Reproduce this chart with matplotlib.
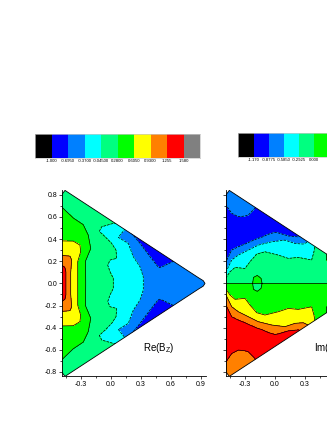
import numpy as np
import matplotlib
matplotlib.use("Agg")
import matplotlib.pyplot as plt
from matplotlib.patches import Polygon

plt.rcParams['font.family'] = ['Liberation Sans', 'DejaVu Sans']
plt.rcParams['mathtext.fontset'] = 'custom'
plt.rcParams['mathtext.rm'] = 'Liberation Sans'
plt.rcParams['mathtext.default'] = 'regular'

# ---------- colour scale ----------
cell_colors = ['#000000', '#0000ff', '#0080ff', '#00ffff', '#00ff80',
               '#00ff00', '#ffff00', '#ff8000', '#ff0000', '#808080']
re_levels = [-1.0, -0.695, -0.37, -0.045, 0.28, 0.605, 0.93, 1.255, 1.58]
re_labels = ['-1.000', '-0.6950', '-0.3700', '-0.04500', '0.2800',
             '0.6050', '0.9300', '1.255', '1.580']
im_levels = [-1.17, -0.8775, -0.585, -0.2925, 0.0, 0.2925, 0.585, 0.8775, 1.17]
im_labels = ['-1.170', '-0.8775', '-0.5850', '-0.2925', '0.000']

# ---------- domain outline (upper half, mirrored) ----------
tri_x = [-0.49, -0.457, 0.88, 0.925, 0.943]
tri_y = [0.80, 0.84, 0.05, 0.025, 0.0]

# ---------- Re(Bz): contour position x at height |y| ----------
re7_y = [0, .10, .144, .165, .175, .9]
re7_x = [-.447, -.447, -.457, -.49, -.8, -.8]
re6_y = [0, .10, .211, .247, .253, .262, .9]
re6_x = [-.40, -.40, -.39, -.407, -.49, -.7, -.7]
re5_y = [0, .196, .286, .346, .382, .386, .9]
re5_x = [-.33, -.33, -.30, -.307, -.374, -.6, -.6]
re4_y = [0, .20, .315, .435, .53, .59, .69, .72, .9]
re4_x = [-.25, -.253, -.20, -.224, -.274, -.374, -.49, -.55, -.55]
re3_y = [0, .045, .105, .165, .211, .226, .301, .361, .422, .47, .512, .542, .56, .9]
re3_x = [.026, .026, -.007, -.03, -.007, .06, .053, .01, -.057, -.114, -.09, .026, .20, .20]
re2_y = [0, .06, .15, .241, .361, .416, .49, .50, .9]
re2_x = [.326, .326, .293, .226, .176, .076, .142, .25, .25]
re1a_y = [0, .147, .241, .361, .452, .47, .9]
re1a_x = [.476, .476, .393, .293, .209, .30, .30]
re1b_y = [0, .147, .156, .20, .21, .9]
re1b_x = [.50, .50, .526, .626, 1.6, 1.6]
# depth of the blue pocket between re1a and re1b, per height
depth_y = [0, .14, .15, .9]
depth_edge = [-.62, -.62, -.695, -.695]
depth_mid = [-.62, -.62, -.85, -.85]

# ---------- Im(Bz): contour height y at position x (upper half, antisymmetric) ----------
imD_x = [-.50, -.49, -.45, -.40, -.30, -.25, -.183, -.10, .033, .133, .233, .367, .39, .40, .42, 1.0]
imD_y = [.05, .051, .105, .144, .135, .196, .265, .286, .256, .226, .235, .211, .286, .34, 1.2, 1.2]
imC_x = [-.50, -.49, -.433, -.367, -.30, -.267, -.167, -.033, .10, .20, .283, .333, .34, .36, 1.0]
imC_y = [.10, .105, .211, .256, .286, .301, .346, .376, .391, .361, .355, .376, .385, 1.3, 1.3]
imB_x = [-.50, -.49, -.433, -.367, -.30, -.25, -.177, -.133, -.067, 0, .033, .133, .233, .26, .28, 1.0]
imB_y = [.19, .196, .301, .331, .355, .376, .404, .416, .443, .461, .455, .428, .419, .428, 1.4, 1.4]
imA_x = [-.50, -.49, -.433, -.367, -.30, -.267, -.20, -.18, 1.0]
imA_y = [.70, .708, .633, .602, .608, .617, .678, 1.5, 1.5]
blob_x = [-.50, -.223, -.215, -.177, -.14, -.13, 1.0]
blob_h = [0, 0, .054, .072, .045, 0, 0]
pocket_x = [.505, .515, 1.0]
pocket_y = [.29, .211, .211]


def re_field(xg, yg):
    cs = [(re7_y, re7_x), (re6_y, re6_x), (re5_y, re5_x), (re4_y, re4_x),
          (re3_y, re3_x), (re2_y, re2_x), (re1a_y, re1a_x)]
    z = np.zeros((yg.size, xg.size))
    for i, y in enumerate(yg):
        a = abs(y)
        px = [np.interp(a, p, q) for p, q in cs]
        b = np.interp(a, re1b_y, re1b_x)
        e = np.interp(a, depth_y, depth_edge)
        m = np.interp(a, depth_y, depth_mid)
        xp = [-2] + px + [(px[-1] + b) / 2, b, 3]
        fp = [1.5, 1.255, .93, .605, .28, -.045, -.37, e, m, e, -.5]
        xp = np.maximum.accumulate(xp) + np.arange(len(xp)) * 1e-6
        z[i] = np.interp(xg, xp, fp)
    return z


def im_field(xg, yg):
    z = np.zeros((yg.size, xg.size))
    up = np.abs(yg)
    sign = np.where(yg >= 0, 1.0, -1.0)
    for j, x in enumerate(xg):
        d = np.interp(x, imD_x, imD_y)
        c = np.interp(x, imC_x, imC_y)
        b = np.interp(x, imB_x, imB_y)
        a = np.interp(x, imA_x, imA_y)
        h = np.interp(x, blob_x, blob_h)
        ys, vs = [0.0], [0.0]
        if h > 0.002:
            ys += [h / 2, h]
            vs += [0.09, 0.0]
        if x >= pocket_x[1]:
            low = np.interp(x, pocket_x, pocket_y)
            ys += [low / 2, low, low + .05]
            vs += [-.1, 0.0, .05]
        ys += [d, c, b, (b + a) / 2, a, 2.0]
        vs += [-.2925, -.585, -.8775, -1.0, -.8775, -.6]
        ys = np.maximum.accumulate(ys) + np.arange(len(ys)) * 1e-6
        z[:, j] = np.interp(up, ys, vs) * sign
    return z


fig = plt.figure(figsize=(3.27, 4.23), dpi=100)
W, H = 327.0, 423.0


def px_axes(x0, y0, x1, y1):
    return fig.add_axes([x0 / W, (H - y1) / H, (x1 - x0) / W, (y1 - y0) / H])


def colorbar(box, labels):
    ax = px_axes(*box)
    ax.pcolormesh(np.arange(11), [0, 1], np.arange(10).reshape(1, 10),
                  cmap=matplotlib.colors.ListedColormap(cell_colors), vmin=-.5, vmax=9.5)
    ax.set_xlim(0, 10)
    ax.set_ylim(0, 1)
    ax.set_yticks([])
    ax.set_xticks(np.arange(1, len(labels) + 1))
    ax.set_xticklabels(labels, fontsize=3.1)
    ax.tick_params(axis='x', length=0, pad=1.2)
    for s in ax.spines.values():
        s.set_color('#c8c8c8')
        s.set_linewidth(.5)


def panel(x0, field, levels, ylabels, xmajor, xminor, label, lx):
    ax = px_axes(x0, 190.4, x0 + 144, 376.4)
    ax.set_xlim(-.49, .95)
    ax.set_ylim(-.84, .84)
    xg = np.linspace(-.5, 1.0, 751)
    yg = np.linspace(-.86, .86, 861)
    z = field(xg, yg)
    outline = list(zip(tri_x, tri_y)) + [(a, -b) for a, b in zip(tri_x[::-1], tri_y[::-1])][1:]
    poly = Polygon(outline, closed=True, transform=ax.transData, facecolor='none',
                   edgecolor='black', linewidth=.6, zorder=4)
    ax.add_patch(poly)
    cf = ax.contourf(xg, yg, z, levels=levels, colors=cell_colors[1:9])
    cl = ax.contour(xg, yg, z, levels=levels[1:-1], colors='black', linewidths=.5)
    cf.set_clip_path(poly)
    cl.set_clip_path(poly)
    for s in ('top', 'right'):
        ax.spines[s].set_visible(False)
    for s in ('left', 'bottom'):
        ax.spines[s].set_linewidth(.6)
    ax.set_xticks(xmajor)
    ax.set_xticklabels([f'{v:.1f}' for v in xmajor])
    ax.set_xticks(xminor, minor=True)
    ax.set_yticks(np.round(np.arange(-.8, .81, .2), 1))
    ax.set_yticks(np.round(np.arange(-.7, .71, .2), 1), minor=True)
    if ylabels:
        ax.set_yticklabels([f'{v:.1f}' for v in np.round(np.arange(-.8, .81, .2), 1) + 0.0])
    else:
        ax.tick_params(axis='y', labelleft=False)
    ax.tick_params(which='major', length=2.2, width=.5, labelsize=5, pad=1)
    ax.tick_params(which='minor', length=1.2, width=.5)
    ax.patch.set_alpha(0)
    ax.text(lx, -.585, label, fontsize=7, ha='left', va='center')


colorbar((35, 134.3, 200, 157.7), re_labels)
colorbar((238.3, 133.3, 390.3, 156.7), im_labels)
panel(61.7, re_field, re_levels, True, [-.3, 0.0, .3, .6, .9],
      [-.45, -.15, .15, .45, .75], 'Re(B$_{Z}$)', .32)
panel(226.0, im_field, im_levels, False, [-.3, 0.0, .3],
      [-.45, -.15, .15, .45], 'Im(B$_{Z}$)', .39)

fig.savefig('out.png', dpi=100)
